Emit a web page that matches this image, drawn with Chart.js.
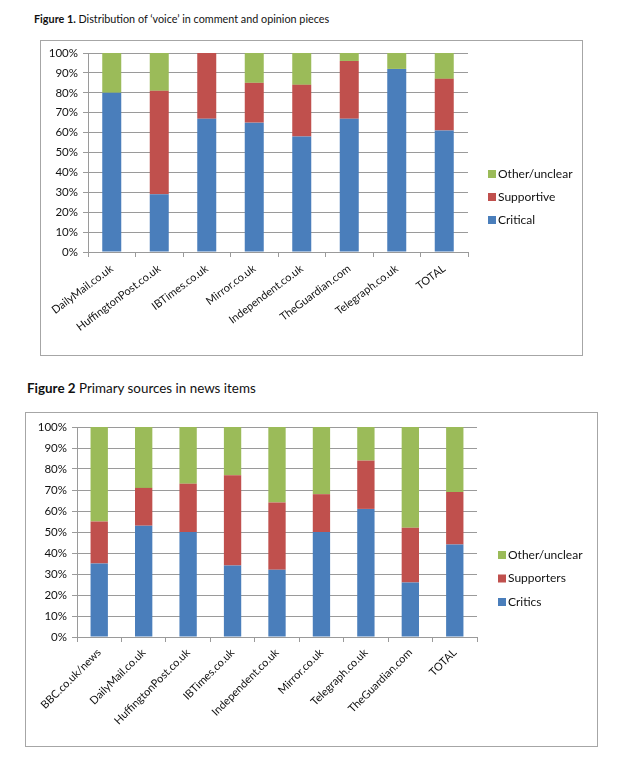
<!DOCTYPE html>
<html lang="en">
<head>
  <meta charset="UTF-8" />
  <title>Figures</title>
  <script src="https://cdn.jsdelivr.net/npm/chart.js"></script>
  <style>
    body, html {
      margin: 0;
      background: #fff;
      font-family: Lato, "Open Sans", sans-serif;
    }
    .title {
      position: absolute;
      color: #111;
      white-space: nowrap;
    }
    .box {
      position: absolute;
      border: 1px solid #a6a6a6;
    }
    .box canvas { display: block; }
  </style>
</head>
<body>
  <div class="title" style="left:34px; top:12px; font-size:10.8px;"><b>Figure 1.</b> Distribution of ‘voice’ in comment and opinion pieces</div>
  <div class="box" style="left:40px; top:40px; width:541px; height:314px;">
    <canvas id="chart1" width="541" height="314"></canvas>
  </div>

  <div class="title" style="left:27px; top:380px; font-size:13.4px;"><b>Figure 2</b> Primary sources in news items</div>
  <div class="box" style="left:25px; top:412px; width:571px; height:333px;">
    <canvas id="chart2" width="571" height="333"></canvas>
  </div>

  <script>
    // Figure 1 data (percent)
    const sites1 = ['DailyMail.co.uk', 'HuffingtonPost.co.uk', 'IBTimes.co.uk', 'Mirror.co.uk',
                    'Independent.co.uk', 'TheGuardian.com', 'Telegraph.co.uk', 'TOTAL'];
    const critical   = [80, 29, 67, 65, 58, 67, 92, 61];
    const supportive = [0, 52, 33, 20, 26, 29, 0, 26];
    const other1     = [20, 19, 0, 15, 16, 4, 8, 13];

    // Figure 2 data (percent)
    const sites2 = ['BBC.co.uk/news', 'DailyMail.co.uk', 'HuffingtonPost.co.uk', 'IBTimes.co.uk',
                    'Independent.co.uk', 'Mirror.co.uk', 'Telegraph.co.uk', 'TheGuardian.com', 'TOTAL'];
    const critics    = [35, 53, 50, 34, 32, 50, 61, 26, 44];
    const supporters = [20, 18, 23, 43, 32, 18, 23, 26, 25];
    const other2     = [45, 29, 27, 23, 36, 32, 16, 48, 31];

    const yTicks = [0, 10, 20, 30, 40, 50, 60, 70, 80, 90, 100];

    const BLUE = '#4a7ebb', RED = '#c0504d', GREEN = '#9bbb59';
    const GRID = '#9a9a9a';
    const FONT = 'Lato, "Open Sans", sans-serif';

    // legend drawn to the right of the plot, top item = last dataset (Excel style)
    const sideLegend = {
      id: 'sideLegend',
      afterDraw(chart, args, opts) {
        const { ctx, chartArea } = chart;
        const sets = chart.data.datasets.slice().reverse();
        ctx.save();
        ctx.font = '12px ' + FONT;
        ctx.textBaseline = 'middle';
        sets.forEach((ds, i) => {
          const x = chartArea.right + opts.dx;
          const y = chartArea.top + opts.top + i * opts.step;
          ctx.fillStyle = ds.backgroundColor;
          ctx.fillRect(x, y - 4, 8, 8);
          ctx.fillStyle = '#111';
          ctx.fillText(ds.label, x + 10, y);
        });
        ctx.restore();
      }
    };

    function makeChart(id, labels, sets, dims) {
      return new Chart(document.getElementById(id), {
        type: 'bar',
        data: {
          labels: labels,
          datasets: sets.map(s => ({
            label: s.label,
            data: s.data,
            backgroundColor: s.color,
            borderWidth: 0,
            categoryPercentage: 1,
            barPercentage: dims.bar
          }))
        },
        options: {
          responsive: false,
          animation: false,
          layout: { padding: { top: dims.top, right: dims.right, left: 0, bottom: 0 } },
          scales: {
            x: {
              stacked: true,
              grid: { drawOnChartArea: false, drawTicks: true, tickLength: 5, color: GRID },
              border: { color: GRID },
              ticks: {
                maxRotation: dims.rot, minRotation: dims.rot, padding: dims.lpad,
                color: '#111', font: { family: FONT, size: 11 }
              },
              afterFit: s => { s.height = dims.xh; }
            },
            y: {
              stacked: true,
              min: 0, max: 100,
              afterBuildTicks: s => { s.ticks = yTicks.map(v => ({ value: v })); },
              grid: { color: GRID, tickLength: 5 },
              border: { color: GRID },
              ticks: {
                padding: 5,
                color: '#111', font: { family: FONT, size: 11.5 },
                callback: v => v + '%'
              },
              afterFit: s => { s.width = dims.yw; }
            }
          },
          plugins: {
            legend: { display: false },
            tooltip: { enabled: false },
            sideLegend: dims.legend
          }
        },
        plugins: [sideLegend]
      });
    }

    makeChart('chart1', sites1, [
      { label: 'Critical', data: critical, color: BLUE },
      { label: 'Supportive', data: supportive, color: RED },
      { label: 'Other/unclear', data: other1, color: GREEN }
    ], { top: 12, right: 114, yw: 47, xh: 103, bar: 0.4, rot: 37, lpad: 5,
         legend: { dx: 20, top: 121, step: 23 } });

    makeChart('chart2', sites2, [
      { label: 'Critics', data: critics, color: BLUE },
      { label: 'Supporters', data: supporters, color: RED },
      { label: 'Other/unclear', data: other2, color: GREEN }
    ], { top: 14, right: 120, yw: 51, xh: 109, bar: 0.39, rot: 45, lpad: 4,
         legend: { dx: 21, top: 128, step: 23.5 } });
  </script>
</body>
</html>
